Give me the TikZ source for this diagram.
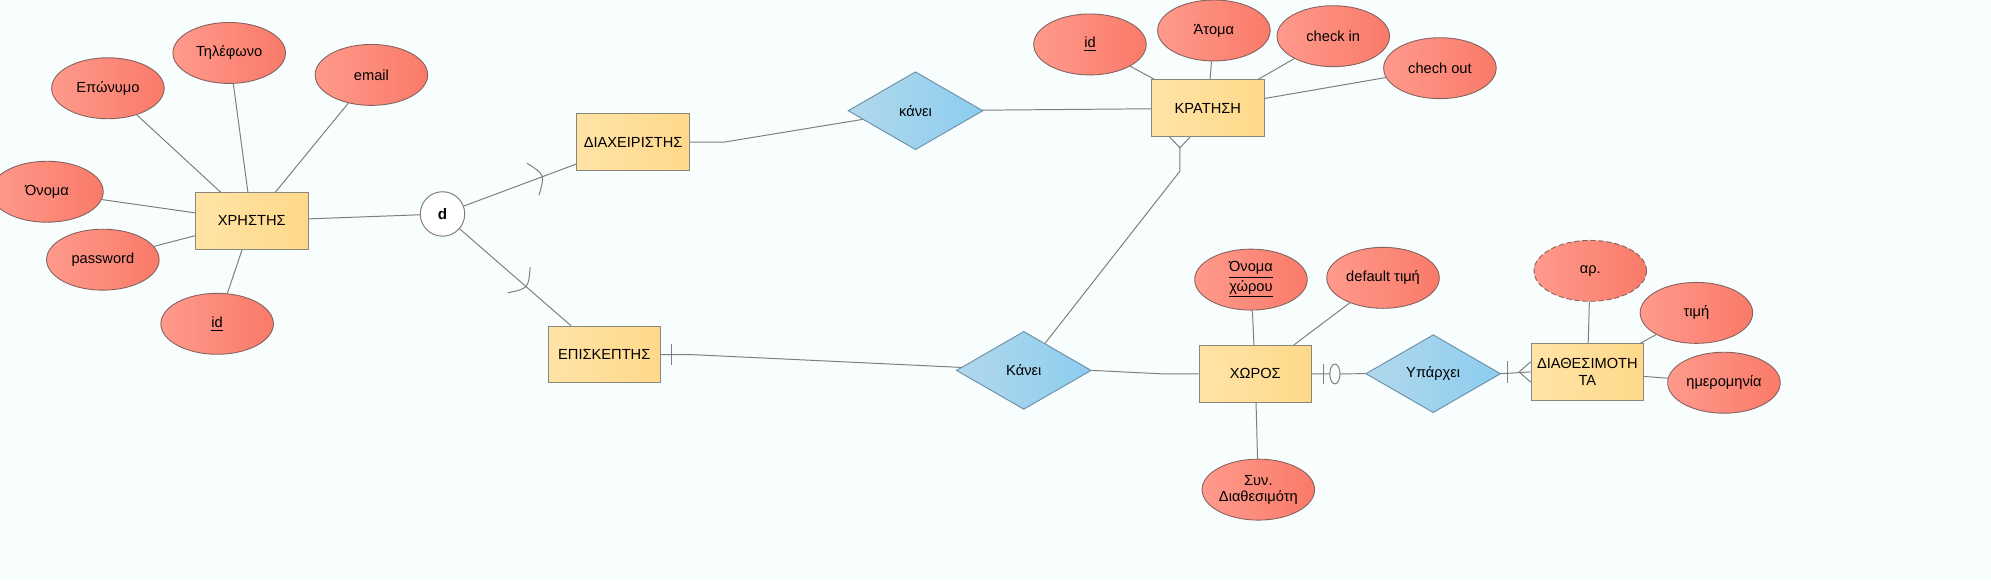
\documentclass[tikz,border=0pt]{standalone}
\usepackage{fontspec}
\setmainfont{Liberation Sans}
\usetikzlibrary{shapes.geometric,calc}
\definecolor{bg}{HTML}{F8FEFE}
\definecolor{ellL}{HTML}{FF9A8C}
\definecolor{ellR}{HTML}{F97A69}
\definecolor{ellB}{HTML}{86625E}
\definecolor{entL}{HTML}{FFE3A6}
\definecolor{entR}{HTML}{FFD98A}
\definecolor{entB}{HTML}{8A877C}
\definecolor{relL}{HTML}{B2D8EC}
\definecolor{relR}{HTML}{8CCDEF}
\definecolor{relB}{HTML}{6A8CA4}
\definecolor{lineC}{HTML}{7E7E7E}
\begin{document}
\begin{tikzpicture}[x=0.025cm,y=-0.025cm,font=\fontsize{8.2}{9}\selectfont,
  attr/.style={ellipse, draw=ellB, line width=0.5pt, left color=ellL, right color=ellR,
    minimum width=2.215cm, minimum height=1.2cm, inner sep=0pt, align=center},
  weakattr/.style={attr, dashed, dash pattern=on 3pt off 1.5pt},
  ent/.style={rectangle, draw=entB, line width=0.55pt, left color=entL, right color=entR,
    minimum width=2.215cm, minimum height=1.115cm, inner sep=0pt, align=center},
  rel/.style={diamond, draw=relB, line width=0.5pt, left color=relL, right color=relR,
    minimum width=2.655cm, minimum height=1.535cm, inner sep=0pt},
  link/.style={draw=lineC, line width=0.55pt}]
\useasboundingbox (0,0) rectangle (1568,457.6);
\clip (0,0) rectangle (1568,457.6);
\fill[bg] (0,0) rectangle (1568,457.6);

% entities
\node[ent] (xr) at (198.3,174) {ΧΡΗΣΤΗΣ};
\node[ent] (diax) at (498.6,112) {ΔΙΑΧΕΙΡΙΣΤΗΣ};
\node[ent] (episk) at (475.9,279.3) {ΕΠΙΣΚΕΠΤΗΣ};
\node[ent] (krat) at (951.2,85.3) {ΚΡΑΤΗΣΗ};
\node[ent] (xoros) at (988.6,294.5) {ΧΩΡΟΣ};
\node[ent] (diath) at (1250.1,292.9) {ΔΙΑΘΕΣΙΜΟΤΗ\\ΤΑ};

% relationships
\node[rel] (kanei1) at (721,87.2) {κάνει};
\node[rel] (kanei2) at (806.3,291.7) {Κάνει};
\node[rel] (yparxei) at (1128.7,294.3) {Υπάρχει};

% specialisation circle
\node[circle, draw=lineC, line width=0.55pt, fill=white, minimum size=0.875cm, inner sep=0pt,
  font=\fontsize{8.5}{9}\selectfont\bfseries] (d) at (348.5,168.5) {d};

% attributes of ΧΡΗΣΤΗΣ
\node[attr] (epon) at (85,69.5) {Επώνυμο};
\node[attr] (til) at (180.5,41.7) {Τηλέφωνο};
\node[attr] (email) at (292.5,59) {email};
\node[attr] (onoma) at (37,151) {Όνομα};
\node[attr] (pass) at (81,204.5) {password};
\node[attr] (uid) at (171,255) {\underline{id}};

% attributes of ΚΡΑΤΗΣΗ
\node[attr] (kid) at (858.4,35) {\underline{id}};
\node[attr] (atoma) at (956,24) {Άτομα};
\node[attr] (cin) at (1050,28.5) {check in};
\node[attr] (cout) at (1134,53.7) {chech out};

% attributes of ΧΩΡΟΣ
\node[attr] (oxor) at (985.2,220.2) {\underline{Όνομα}\\\underline{χώρου}};
\node[attr] (dtimi) at (1089.2,218.8) {default τιμή};
\node[attr] (syn) at (991,385.6) {Συν.\\Διαθεσιμότη};

% attributes of ΔΙΑΘΕΣΙΜΟΤΗΤΑ
\node[weakattr] (ar) at (1252.4,213.3) {αρ.};
\node[attr] (timi) at (1336,246.4) {τιμή};
\node[attr] (imer) at (1357.7,301.4) {ημερομηνία};

% attribute links
\foreach \a in {epon,til,email,onoma,pass,uid} \draw[link] (xr) -- (\a);
\foreach \a in {kid,atoma,cin,cout} \draw[link] (krat) -- (\a);
\foreach \a in {oxor,dtimi,syn} \draw[link] (xoros) -- (\a);
\foreach \a in {ar,timi,imer} \draw[link] (diath) -- (\a);

% specialisation
\draw[link] (xr) -- (d);
\coordinate (dA) at ($(diax.south west)+(0,-5.5)$);
\coordinate (dB) at ($(episk.north west)+(18.6,0)$);
\draw[link] (d) -- (dA);
\draw[link] (d) -- (dB);
\draw[link] (415.1,128.6) .. controls (429.15,137.6) .. (424.5,153.6);
\draw[link] (417.5,210.4) .. controls (416.2,227.1) .. (399.9,230.6);

% ΔΙΑΧΕΙΡΙΣΤΗΣ - κάνει - ΚΡΑΤΗΣΗ
\draw[link] (diax.east) -- ++(26.4,0) -- (kanei1);
\draw[link] (kanei1) -- (krat);

% ΕΠΙΣΚΕΠΤΗΣ - Κάνει
\draw[link] (episk.east) -- ++(24.7,0) -- (kanei2);
\draw[link] ($(episk.east)+(8.2,-8.5)$) -- ($(episk.east)+(8.2,8.5)$);

% Κάνει - ΚΡΑΤΗΣΗ (crow's foot)
\coordinate (kj) at ($(krat.south)+(-22,8.4)$);
\draw[link] (kanei2) -- ($(krat.south)+(-22,26.8)$) -- (kj);
\draw[link] ($(krat.south)+(-30,0)$) -- (kj) -- ($(krat.south)+(-14,0)$);

% Κάνει - ΧΩΡΟΣ
\draw[link] (kanei2.east) -- ($(xoros.west)+(-26.8,0)$) -- (xoros.west);

% ΧΩΡΟΣ - Υπάρχει
\draw[link] (xoros.east) -- (yparxei.west);
\draw[link] ($(xoros.east)+(9.1,-8)$) -- ($(xoros.east)+(9.1,8)$);
\draw[link, fill=bg] ($(xoros.east)+(18,0)$) ellipse [x radius=0.1cm, y radius=0.195cm];

% Υπάρχει - ΔΙΑΘΕΣΙΜΟΤΗΤΑ
\draw[link] (yparxei.east) -- (diath.west);
\draw[link] ($(diath.west)+(-18,-8.5)$) -- ($(diath.west)+(-18,8.5)$);
\draw[link] ($(diath.west)+(0,-8)$) -- ($(diath.west)+(-9,0)$) -- ($(diath.west)+(0,8)$);
\end{tikzpicture}
\end{document}
